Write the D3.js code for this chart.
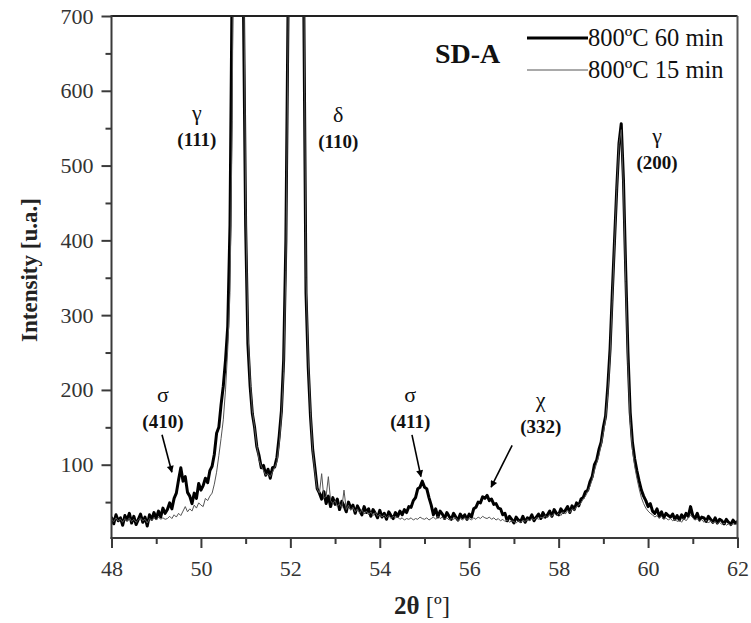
<!DOCTYPE html>
<html>
<head>
<meta charset="utf-8">
<script src="https://cdn.jsdelivr.net/npm/d3@7"></script>
<style>
  html, body { margin: 0; padding: 0; background: #fff; }
  svg { display: block; font-family: "Liberation Serif", "Times New Roman", serif; }
</style>
</head>
<body>
<svg id="chart" width="751" height="623"></svg>
<script>
// XRD scan: 2θ from 48° to 62° in 0.05° steps
const scanStart = 48;
const scanStep = 0.05;

// Intensity, 800ºC 60 min (one row per 0.5°)
const intensity60 = [
  30, 21, 33, 25, 29, 19, 32, 26, 35, 22,          // 48.00
  31, 20, 27, 34, 23, 30, 18, 33, 27, 36,          // 48.50
  28, 38, 30, 42, 35, 40, 49, 41, 55, 62,          // 49.00
  80, 96, 78, 84, 63, 58, 48, 62, 55, 75,          // 49.50
  66, 72, 82, 76, 92, 98, 114, 142, 150, 180,      // 50.00
  205, 240, 285, 420, 760, 1350, 2100, 2200, 1500, 720, // 50.50
  420, 262, 205, 168, 150, 124, 112, 96, 99, 86,   // 51.00
  94, 82, 96, 97, 110, 138, 172, 240, 400, 720,    // 51.50
  1400, 2300, 2800, 2700, 2000, 1300, 720, 330, 230, 165, // 52.00
  120, 95, 68, 62, 54, 64, 48, 58, 44, 56,         // 52.50
  47, 54, 40, 51, 45, 37, 50, 42, 46, 35,          // 53.00
  45, 39, 33, 44, 36, 41, 31, 40, 35, 29,          // 53.50
  39, 30, 35, 27, 37, 32, 28, 36, 31, 38,          // 54.00
  33, 40, 36, 44, 43, 52, 56, 68, 70, 78,          // 54.50
  70, 68, 56, 46, 33, 41, 30, 38, 34, 28,          // 55.00
  36, 31, 27, 35, 30, 26, 34, 29, 33, 27,          // 55.50
  34, 30, 41, 43, 50, 49, 57, 55, 59, 52,          // 56.00
  54, 47, 48, 42, 41, 33, 35, 25, 31, 27,          // 56.50
  22, 30, 26, 24, 31, 23, 29, 27, 33, 25,          // 57.00
  30, 34, 28, 36, 30, 33, 38, 31, 40, 35,          // 57.50
  33, 41, 36, 39, 44, 36, 45, 40, 49, 45,          // 58.00
  54, 56, 64, 66, 77, 84, 100, 106, 120, 130,      // 58.50
  150, 165, 205, 255, 330, 400, 470, 530, 556, 480, // 59.00
  360, 250, 170, 130, 108, 92, 78, 66, 58, 52,     // 59.50
  44, 48, 38, 35, 41, 31, 37, 29, 35, 32,          // 60.00
  30, 34, 27, 32, 26, 33, 28, 35, 31, 44,          // 60.50
  32, 28, 35, 26, 30, 29, 24, 31, 27, 23,          // 61.00
  29, 22, 27, 25, 21, 27, 23, 20, 26, 22,          // 61.50
  24                                               // 62.00
];

// Intensity, 800ºC 15 min
const intensity15 = [
  27, 24, 29, 25, 27, 23, 28, 25, 29, 24,          // 48.00
  27, 23, 26, 29, 25, 27, 22, 28, 26, 29,          // 48.50
  26, 30, 27, 29, 27, 28, 31, 28, 33, 30,          // 49.00
  35, 32, 38, 44, 37, 41, 38, 46, 42, 49,          // 49.50
  46, 44, 55, 52, 58, 62, 74, 90, 112, 135,        // 50.00
  160, 200, 255, 330, 560, 1100, 1800, 2250, 2050, 820, // 50.50
  450, 280, 215, 172, 150, 125, 106, 98, 92, 86,   // 51.00
  88, 84, 90, 96, 104, 128, 165, 225, 360, 680,    // 51.50
  1300, 2200, 2700, 2750, 2100, 1400, 760, 350, 240, 170, // 52.00
  118, 90, 68, 62, 88, 55, 58, 84, 52, 48,         // 52.50
  52, 44, 48, 42, 66, 40, 46, 39, 43, 37,          // 53.00
  41, 35, 40, 34, 38, 33, 37, 32, 36, 31,          // 53.50
  34, 30, 33, 29, 32, 28, 31, 29, 30, 27,          // 54.00
  29, 26, 28, 27, 29, 26, 28, 27, 30, 28,          // 54.50
  27, 29, 26, 28, 30, 27, 31, 28, 30, 27,          // 55.00
  29, 26, 28, 27, 29, 25, 28, 26, 29, 27,          // 55.50
  28, 26, 29, 27, 30, 28, 31, 29, 28, 30,          // 56.00
  27, 29, 26, 28, 25, 27, 24, 26, 23, 25,          // 56.50
  24, 22, 25, 23, 26, 24, 27, 25, 28, 26,          // 57.00
  29, 27, 30, 28, 32, 29, 33, 31, 35, 32,          // 57.50
  35, 32, 37, 34, 39, 36, 41, 39, 44, 46,          // 58.00
  49, 54, 58, 64, 71, 80, 92, 102, 112, 126,       // 58.50
  142, 160, 195, 245, 320, 395, 468, 528, 548, 470, // 59.00
  345, 235, 158, 120, 98, 82, 68, 56, 48, 42,      // 59.50
  38, 35, 33, 30, 32, 28, 31, 27, 29, 26,          // 60.00
  28, 25, 27, 24, 26, 23, 28, 25, 29, 33,          // 60.50
  29, 26, 28, 24, 27, 23, 26, 22, 25, 22,          // 61.00
  24, 21, 23, 20, 22, 19, 21, 19, 21, 20,          // 61.50
  21                                               // 62.00
];

const seriesNames = ["800ºC 60 min", "800ºC 15 min"];
const sampleName = "SD-A";

const xTicks = [48, 50, 52, 54, 56, 58, 60, 62];
const xMinorTicks = [49, 51, 53, 55, 57, 59, 61];
const yTicks = [100, 200, 300, 400, 500, 600, 700];
const yMinorTicks = [50, 150, 250, 350, 450, 550, 650];

// Phase labels: symbol over Miller indices, anchored at (2θ, intensity) of the indices baseline
const peakLabels = [
  { sym: "γ", hkl: "(111)", t: 49.91, v: 526 },
  { sym: "δ", hkl: "(110)", t: 53.07, v: 523 },
  { sym: "γ", hkl: "(200)", t: 60.20, v: 495 },
  { sym: "σ", hkl: "(410)", t: 49.15, v: 149 },
  { sym: "σ", hkl: "(411)", t: 54.68, v: 149 },
  { sym: "χ", hkl: "(332)", t: 57.60, v: 142 }
];
// Arrows from a label down to the small peak it names
const peakArrows = [
  { from: [49.13, 140], to: [49.35, 90] },
  { from: [54.72, 140], to: [54.92, 84] },
  { from: [56.96, 126], to: [56.49, 70] }
];

const plot = { left: 111.5, right: 737.5, top: 16, bottom: 538 };

const angles = intensity60.map((_, i) => +(scanStart + i * scanStep).toFixed(2));

const x = d3.scaleLinear().domain([48, 62]).range([plot.left, plot.right]);
const y = d3.scaleLinear().domain([2, 700]).range([plot.bottom, plot.top]);

const svg = d3.select("#chart");
const axisColor = "#3a3a3a";
const textColor = "#333";
const serif = '"Liberation Serif", "Times New Roman", serif';

const defs = svg.append("defs");
defs.append("clipPath").attr("id", "plot-clip")
  .append("rect")
  .attr("x", plot.left).attr("y", plot.top)
  .attr("width", plot.right - plot.left).attr("height", plot.bottom - plot.top);

defs.append("marker")
  .attr("id", "arrowhead")
  .attr("viewBox", "0 0 10 10")
  .attr("refX", 9).attr("refY", 5)
  .attr("markerWidth", 12).attr("markerHeight", 7)
  .attr("markerUnits", "userSpaceOnUse")
  .attr("orient", "auto")
  .append("path").attr("d", "M0,0 L10,5 L0,10 Z").attr("fill", "#000");

// Scans
const line = d3.line()
  .x((d, i) => x(angles[i]))
  .y(d => y(d));

const curves = svg.append("g").attr("clip-path", "url(#plot-clip)");
curves.append("path")
  .datum(intensity60)
  .attr("d", line)
  .attr("fill", "none")
  .attr("stroke", "#000")
  .attr("stroke-width", 3)
  .attr("stroke-linejoin", "round");
curves.append("path")
  .datum(intensity15)
  .attr("d", line)
  .attr("fill", "none")
  .attr("stroke", "#555")
  .attr("stroke-width", 1)
  .attr("stroke-linejoin", "round");

// Frame: top and right edges
svg.append("line")
  .attr("x1", plot.left).attr("x2", plot.right)
  .attr("y1", plot.top).attr("y2", plot.top)
  .attr("stroke", "#222").attr("stroke-width", 2);
svg.append("line")
  .attr("x1", plot.right).attr("x2", plot.right)
  .attr("y1", plot.top).attr("y2", plot.bottom)
  .attr("stroke", "#555").attr("stroke-width", 2);

// Bottom axis
const gx = svg.append("g").attr("transform", `translate(0,${plot.bottom})`)
  .call(d3.axisBottom(x).tickValues(xTicks).tickSize(10).tickSizeOuter(0).tickPadding(12).tickFormat(d3.format("d")));
svg.append("g").attr("transform", `translate(0,${plot.bottom})`)
  .call(d3.axisBottom(x).tickValues(xMinorTicks).tickSize(6).tickSizeOuter(0).tickFormat(""))
  .call(g => g.select(".domain").remove());

// Left axis
const gy = svg.append("g").attr("transform", `translate(${plot.left},0)`)
  .call(d3.axisLeft(y).tickValues(yTicks).tickSize(10).tickSizeOuter(0).tickPadding(8).tickFormat(d3.format("d")));
svg.append("g").attr("transform", `translate(${plot.left},0)`)
  .call(d3.axisLeft(y).tickValues(yMinorTicks).tickSize(6).tickSizeOuter(0).tickFormat(""))
  .call(g => g.select(".domain").remove());

svg.selectAll(".domain").attr("stroke", axisColor).attr("stroke-width", 2);
svg.selectAll(".tick line").attr("stroke", axisColor).attr("stroke-width", 2);
svg.selectAll(".tick text")
  .attr("fill", textColor)
  .style("font-family", serif)
  .style("font-size", "22px");
gx.select(".domain").attr("d", `M${plot.left - 1},0H${plot.right + 1}`);
gy.select(".domain").attr("d", `M0,${plot.bottom + 1}V${plot.top - 1}`);

// Axis titles
svg.append("text")
  .attr("transform", "translate(37,270) rotate(-90)")
  .attr("text-anchor", "middle")
  .attr("fill", "#222")
  .style("font-size", "23px").style("font-weight", "bold")
  .text("Intensity [u.a.]");

const xt = svg.append("text")
  .attr("x", 422).attr("y", 614)
  .attr("text-anchor", "middle")
  .attr("fill", "#222")
  .style("font-size", "25px");
xt.append("tspan").style("font-weight", "bold").text("2θ");
xt.append("tspan").text(" [º]");

// Peak labels
const labels = svg.append("g").attr("fill", "#111").attr("text-anchor", "middle");
peakLabels.forEach(p => {
  labels.append("text")
    .attr("x", x(p.t)).attr("y", y(p.v) - 26)
    .style("font-size", "22px")
    .text(p.sym);
  labels.append("text")
    .attr("x", x(p.t)).attr("y", y(p.v))
    .style("font-size", "19px").style("font-weight", "bold")
    .text(p.hkl);
});

svg.append("g").selectAll("line").data(peakArrows).join("line")
  .attr("x1", d => x(d.from[0])).attr("y1", d => y(d.from[1]))
  .attr("x2", d => x(d.to[0])).attr("y2", d => y(d.to[1]))
  .attr("stroke", "#000").attr("stroke-width", 1.6)
  .attr("marker-end", "url(#arrowhead)");

// Sample name and legend
svg.append("text")
  .attr("x", 435).attr("y", 63)
  .attr("fill", "#111")
  .style("font-size", "28px").style("font-weight", "bold")
  .text(sampleName);

const legend = svg.append("g");
const legendRows = [
  { name: seriesNames[0], y: 38, width: 3.2, color: "#000" },
  { name: seriesNames[1], y: 70, width: 1, color: "#555" }
];
legendRows.forEach(r => {
  legend.append("line")
    .attr("x1", 527).attr("x2", 588)
    .attr("y1", r.y).attr("y2", r.y)
    .attr("stroke", r.color).attr("stroke-width", r.width);
  legend.append("text")
    .attr("x", 588).attr("y", r.y + 8)
    .attr("fill", "#111")
    .style("font-size", "24.5px")
    .text(r.name);
});
</script>
</body>
</html>
